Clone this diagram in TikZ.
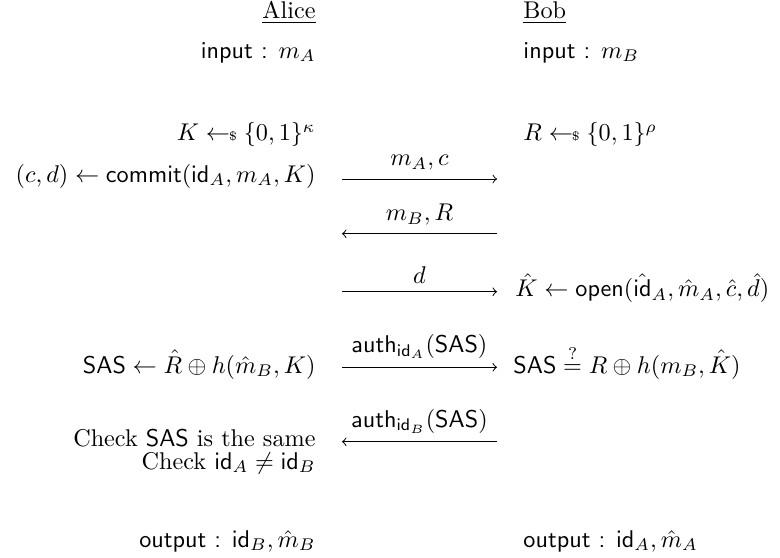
\documentclass[tikz,border=0pt]{standalone}
\usepackage{amsmath}
\newcommand{\drawfrom}{\mathrel{\gets\!\!\mbox{\tiny\$}}}
\tikzset{
  alicetxt/.style={anchor=base east, inner sep=0pt},
  bobtxt/.style={anchor=base west, inner sep=0pt},
  msg/.style={->, line width=0.4pt}
}
\begin{document}
\begin{tikzpicture}[x=0.4132pt, y=-0.4132pt]
	\useasboundingbox (0,0) rectangle (780,558);

	% 参与方与输入
	\node[alicetxt] (alice) at (316,18.5) {\underline{Alice}};
	\node[bobtxt] (bob) at (523,18.5) {\underline{Bob}};
	\node[alicetxt] (inA) at (316,58) {\textsf{input :} $m_A$};
	\node[bobtxt] (inB) at (523,58) {\textsf{input :} $m_B$};

	% 随机取样与承诺
	\node[alicetxt] (keyA) at (316,141) {$K \drawfrom \{0,1\}^\kappa$};
	\node[bobtxt] (rndB) at (523,141) {$R \drawfrom \{0,1\}^\rho$};
	\node[alicetxt] (cmtA) at (316,182) {$(c,d) \gets \mathsf{commit}(\mathsf{id}_A, m_A, K)$};

	% 消息箭头的端点
	\coordinate (l1) at (342,179);   \coordinate (r1) at (497,179);
	\coordinate (l2) at (342,233.7); \coordinate (r2) at (497,233.7);
	\coordinate (l3) at (342,291.7); \coordinate (r3) at (497,291.7);
	\coordinate (l4) at (342,367.3); \coordinate (r4) at (497,367.3);
	\coordinate (l5) at (342,441.7); \coordinate (r5) at (497,441.7);

	\draw[msg] (l1) -- node[above] (msg1) {$m_A, c$} (r1);
	\draw[msg] (r2) -- node[above] (msg2) {$m_B, R$} (l2);
	\draw[msg] (l3) -- node[above] (msg3) {$d$} (r3);

	% 打开承诺
	\node[bobtxt] (openB) at (515,297) {$\hat{K} \gets \mathsf{open}(\hat{\mathsf{id}}_A, \hat{m}_A, \hat{c}, \hat{d})$};

	% 短认证串
	\draw[msg] (l4) -- node[above] (msg4) {$\mathsf{auth}_{\mathsf{id}_A}(\mathsf{SAS})$} (r4);
	\node[alicetxt] (sasA) at (316,373) {$\mathsf{SAS} \gets \hat{R} \oplus h(\hat{m}_B, K)$};
	\node[bobtxt] (sasB) at (513,373) {$\mathsf{SAS} \stackrel{?}{=} R \oplus h(m_B, \hat{K})$};
	\draw[msg] (r5) -- node[above] (msg5) {$\mathsf{auth}_{\mathsf{id}_B}(\mathsf{SAS})$} (l5);

	% 检查
	\node[alicetxt] (chk1) at (316,447) {Check \textsf{SAS} is the same};
	\node[alicetxt] (chk2) at (316,469) {Check $\mathsf{id}_A \neq \mathsf{id}_B$};

	% 输出
	\node[alicetxt] (outA) at (316,547) {\textsf{output :} $\mathsf{id}_B, \hat{m}_B$};
	\node[bobtxt] (outB) at (523,547) {\textsf{output :} $\mathsf{id}_A, \hat{m}_A$};
\end{tikzpicture}
\end{document}
